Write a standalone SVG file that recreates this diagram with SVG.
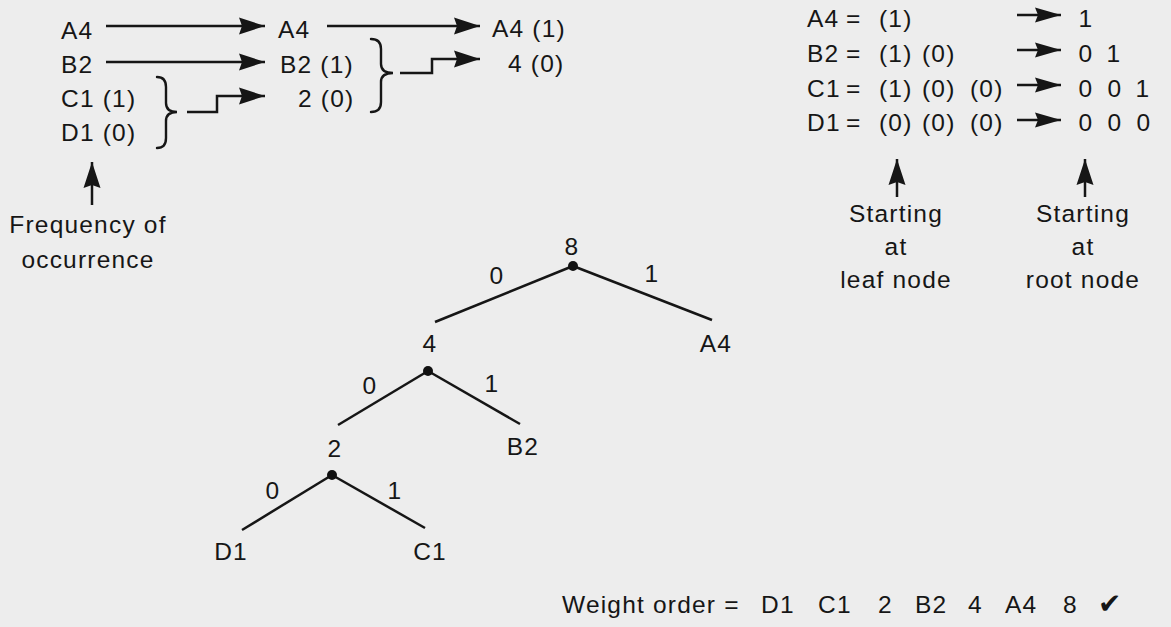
<svg xmlns="http://www.w3.org/2000/svg" width="1171" height="627" viewBox="0 0 1171 627">
<style>
text { font-family: "Liberation Sans", Arial, sans-serif; font-size: 24.5px; fill: #161616; letter-spacing: 1.2px; }
.m { text-anchor: middle; }
.ln { stroke: #161616; stroke-width: 2.5; fill: none; }
.br { stroke: #161616; stroke-width: 2.4; fill: none; stroke-linecap: round; }
.dot { fill: #111; }
</style>
<defs>
<marker id="ah" markerUnits="userSpaceOnUse" markerWidth="28" markerHeight="20" refX="26" refY="9" orient="auto" viewBox="0 0 28 20" overflow="visible">
<path d="M0,0.5 L26,9 L0,17.5 L3,9 z" fill="#161616"/>
</marker>
<marker id="ahs" markerUnits="userSpaceOnUse" markerWidth="28" markerHeight="18" refX="26" refY="8" orient="auto" viewBox="0 0 28 18" overflow="visible">
<path d="M0,0.5 L26,8 L0,15.5 L3,8 z" fill="#161616"/>
</marker>
</defs>
<rect width="1171" height="627" fill="#ededed"/>

<g id="merge-steps">
<text x="61" y="39">A4</text>
<text x="61" y="73">B2</text>
<text x="61" y="107">C1 (1)</text>
<text x="61" y="141">D1 (0)</text>
<text x="278" y="38">A4</text>
<text x="280" y="73">B2 (1)</text>
<text x="298" y="107">2 (0)</text>
<text x="492" y="37">A4 (1)</text>
<text x="508" y="72">4 (0)</text>
<path class="br" d="M157,77 Q166,77 166,87 L166,103 Q166,112 177,112 Q166,112 166,121 L166,138 Q166,148 157,148"/>
<path class="br" d="M371,39 Q381,39 381,49 L381,64 Q381,73 393,73 Q381,73 381,82 L381,102 Q381,112 371,112"/>
</g>

<g id="frequency-label">
<text class="m" x="88" y="233">Frequency of</text>
<text class="m" x="88" y="268">occurrence</text>
</g>

<g id="code-table">
<text y="27"><tspan x="807">A4</tspan><tspan x="846">=</tspan><tspan x="879">(1)</tspan></text>
<text y="62"><tspan x="807">B2</tspan><tspan x="846">=</tspan><tspan x="879">(1)</tspan><tspan x="922">(0)</tspan></text>
<text y="97"><tspan x="807">C1</tspan><tspan x="846">=</tspan><tspan x="879">(1)</tspan><tspan x="922">(0)</tspan><tspan x="970">(0)</tspan></text>
<text y="131"><tspan x="807">D1</tspan><tspan x="846">=</tspan><tspan x="879">(0)</tspan><tspan x="922">(0)</tspan><tspan x="970">(0)</tspan></text>
<text class="m" y="27"><tspan x="1086">1</tspan></text>
<text class="m" y="62"><tspan x="1086">0</tspan><tspan x="1114">1</tspan></text>
<text class="m" y="97"><tspan x="1086">0</tspan><tspan x="1115">0</tspan><tspan x="1143">1</tspan></text>
<text class="m" y="131"><tspan x="1086">0</tspan><tspan x="1115">0</tspan><tspan x="1144">0</tspan></text>
</g>

<g id="leaf-label">
<text class="m" x="896" y="222">Starting</text>
<text class="m" x="896" y="255">at</text>
<text class="m" x="896" y="288">leaf node</text>
</g>
<g id="root-label">
<text class="m" x="1083" y="222">Starting</text>
<text class="m" x="1083" y="255">at</text>
<text class="m" x="1083" y="288">root node</text>
</g>

<g id="connectors">
<line class="ln" x1="106" y1="26" x2="265" y2="26" marker-end="url(#ah)"/>
<line class="ln" x1="327" y1="26" x2="480" y2="26" marker-end="url(#ah)"/>
<line class="ln" x1="106" y1="62" x2="265" y2="62" marker-end="url(#ah)"/>
<polyline class="ln" points="187,112 217,112 217,96 265,96" marker-end="url(#ah)"/>
<polyline class="ln" points="400,73 432,73 432,59 480,59" marker-end="url(#ah)"/>
<line class="ln" x1="92" y1="205" x2="92" y2="162" marker-end="url(#ah)"/>
<line class="ln" x1="897" y1="197" x2="897" y2="159" marker-end="url(#ah)"/>
<line class="ln" x1="1085" y1="197" x2="1085" y2="159" marker-end="url(#ah)"/>
<line class="ln" x1="1017" y1="15" x2="1061" y2="15" marker-end="url(#ahs)"/>
<line class="ln" x1="1017" y1="50" x2="1061" y2="50" marker-end="url(#ahs)"/>
<line class="ln" x1="1017" y1="85" x2="1061" y2="85" marker-end="url(#ahs)"/>
<line class="ln" x1="1017" y1="120" x2="1061" y2="120" marker-end="url(#ahs)"/>
<line class="ln" x1="573" y1="266" x2="435" y2="322"/>
<line class="ln" x1="573" y1="266" x2="712" y2="320"/>
<line class="ln" x1="428" y1="371" x2="338" y2="425"/>
<line class="ln" x1="428" y1="371" x2="520" y2="424"/>
<line class="ln" x1="332" y1="475" x2="242" y2="530"/>
<line class="ln" x1="332" y1="475" x2="425" y2="528"/>
<text class="m" x="497" y="284">0</text>
<text class="m" x="652" y="282">1</text>
<text class="m" x="370" y="394">0</text>
<text class="m" x="492" y="392">1</text>
<text class="m" x="273" y="499">0</text>
<text class="m" x="395" y="499">1</text>
</g>

<g id="node-8">
<text class="m" x="572" y="255">8</text>
<circle class="dot" cx="573" cy="266" r="5"/>
</g>
<g id="node-4">
<text class="m" x="430" y="352">4</text>
<circle class="dot" cx="428" cy="371" r="5"/>
</g>
<g id="node-2">
<text class="m" x="335" y="457">2</text>
<circle class="dot" cx="332" cy="475" r="5"/>
</g>
<g id="node-A4"><text class="m" x="716" y="352">A4</text></g>
<g id="node-B2"><text class="m" x="523" y="455">B2</text></g>
<g id="node-D1"><text class="m" x="231" y="560">D1</text></g>
<g id="node-C1"><text class="m" x="430" y="560">C1</text></g>

<g id="weight-order">
<text x="562" y="613">Weight order =</text>
<text x="761" y="613">D1</text>
<text x="818" y="613">C1</text>
<text x="878" y="613">2</text>
<text x="915" y="613">B2</text>
<text x="968" y="613">4</text>
<text x="1005" y="613">A4</text>
<text x="1063" y="613">8</text>
<text x="1098" y="613" style="font-family: 'DejaVu Sans', sans-serif; font-size: 28px;">✔</text>
</g>
</svg>
